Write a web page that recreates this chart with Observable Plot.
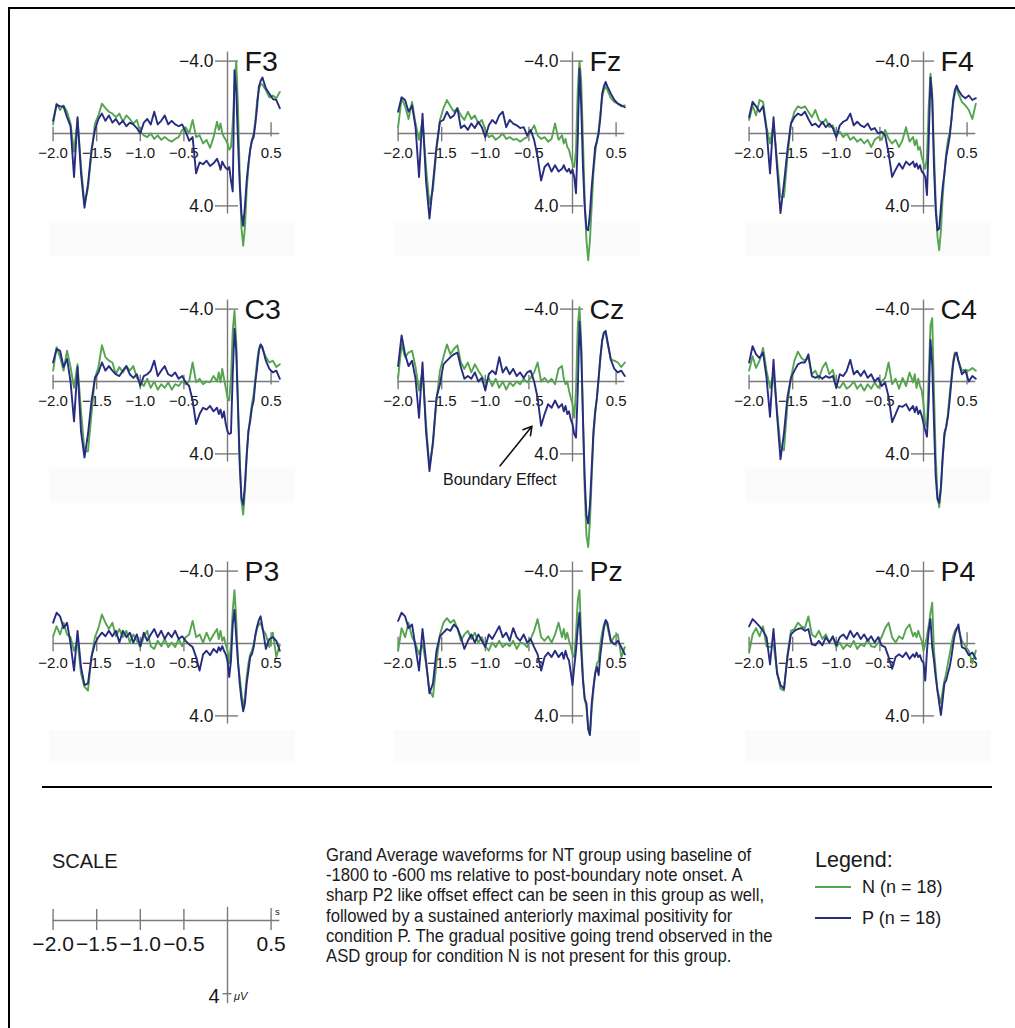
<!DOCTYPE html>
<html><head><meta charset="utf-8">
<script src="https://cdn.jsdelivr.net/npm/d3@7"></script>
<script src="https://cdn.jsdelivr.net/npm/@observablehq/plot@0.6"></script>
<style>
html,body{margin:0;padding:0;background:#fff;}
#page{position:relative;width:1015px;height:1028px;overflow:hidden;font-family:"Liberation Sans",Arial,Helvetica,sans-serif;color:#1a1a1a;}
.abs{position:absolute;}
.abs svg{overflow:visible;}
</style></head><body><div id="page"></div>
<script>
// ---------- DATA ----------
const T = [-2.00,-1.96,-1.92,-1.88,-1.84,-1.80,-1.76,-1.72,-1.68,-1.64,-1.60,-1.56,-1.52,-1.48,-1.44,-1.40,-1.36,-1.32,-1.28,-1.24,-1.20,-1.16,-1.12,-1.08,-1.04,-1.00,-0.96,-0.92,-0.88,-0.84,-0.80,-0.76,-0.72,-0.68,-0.64,-0.60,-0.56,-0.52,-0.48,-0.44,-0.40,-0.36,-0.32,-0.28,-0.24,-0.20,-0.16,-0.12,
-0.10,-0.08,-0.06,-0.04,-0.02,0.00,0.02,0.04,0.06,0.08,0.10,0.12,0.14,0.16,0.18,0.20,0.22,0.24,0.26,0.28,0.30,0.32,0.34,0.36,0.38,0.40,
0.44,0.48,0.52,0.56,0.60];

const PANEL_NAMES = ["F3","Fz","F4","C3","Cz","C4","P3","Pz","P4"];
const CONDITIONS = ["N (n = 18)", "P (n = 18)"];

const F3_N = [-0.5,-1.65,-1.3,-1.55,-1.2,-0.55,1.0,-0.8,1.8,3.9, 3.0,1.1,-0.55,-1.0,-1.65,-1.4,-1.2,-1.1,-0.9,-1.1, -0.65,-1.0,-0.8,-0.55,-0.75,-0.1,0.1,0.2,0,0.3, 0.1,0.35,0.2,0.35,0.45,0.3,0.2,-0.2,-0.35,0, -0.75,0.2,0.1,0.55,0.35,0.8,0.2,-0.65,
 -0.2,-0.55,0,0.2,0.35,0.55,0.9,0.75,-0.55,-2.6, -4.0,-1.5,2.2,5.2,6.2,5.2,3.1,1.85,0.9,0.35, 0,-0.75,-1.85,-2.4,-2.75,-2.7,
 -2.4,-2.0,-2.1,-1.95,-2.3];
const F3_P = [-0.7,-1.6,-1.5,-1.5,-0.9,-0.4,2.4,-0.9,2.2,4.1, 2.8,0.9,-0.2,-0.8,-1.1,-0.7,-1.0,-0.6,-0.8,-0.5, -0.7,-0.4,-0.6,-0.5,-0.3,0.0,-0.6,-0.8,-0.5,-1.2, -0.5,-0.7,-1.0,-0.5,-0.7,-0.5,-0.4,-0.5,-0.1,0.4, 0.2,2.2,1.6,1.7,1.5,1.8,1.65,1.4,
 1.65,2.0,1.55,1.75,1.9,2.0,1.85,2.6,3.2,-3.5, -2.4,0.4,2.8,4.4,5.1,4.0,2.6,1.65,0.9,0.4, 0.2,-0.55,-1.5,-2.6,-2.9,-3.1,
 -2.5,-2.2,-1.9,-1.85,-1.4];

const Fz_N = [-0.35,-1.95,-1.5,-0.8,-1.75,-0.55,0.35,-0.75,1.85,3.9, 3.1,0.9,-0.75,-1.4,-1.85,-1.5,-1.2,-1.4,-1.0,-0.75, -1.2,-0.8,-1.0,-0.55,-0.75,-0.2,0.2,0.1,0.35,0.2, 0,0.3,0.2,0.35,0.3,0.45,0.3,0.2,-0.1,-0.45, 0.1,0.3,0.2,0.45,0.3,-0.55,0.35,0.1,
 0.55,0.3,0.75,0.9,1.3,1.65,1.85,0.9,-2.4,-4.0, -2.95,0.35,3.7,5.9,7.0,5.9,4.05,2.2,1.1,0.35, -0.2,-1.1,-2.0,-2.4,-2.6,-2.4,
 -1.95,-1.75,-1.65,-1.5,-1.55];
const Fz_P = [-1.2,-2.0,-1.85,-1.2,-1.55,-0.35,2.4,-1.1,2.6,4.7, 2.75,0.75,-0.65,-0.75,-1.2,-0.85,-1.0,-1.4,-0.3,-0.45, -0.2,-0.55,-0.3,-0.65,-0.35,0.2,-0.45,-0.75,-0.55,-1.0, -1.2,-0.35,-0.75,-0.55,-0.45,-0.3,-0.35,0.1,-0.2,0.35, 1.3,2.6,1.85,1.65,2.1,1.75,2.1,1.95,
 1.75,2.0,2.1,1.95,2.2,2.0,2.4,3.3,0.35,-3.6, -1.5,1.85,4.05,5.25,5.35,4.4,2.95,1.85,0.75,0.45, 0,-0.9,-2.2,-2.6,-2.85,-2.6,
 -2.2,-1.85,-1.65,-1.55,-1.45];

const F4_N = [-0.75,-1.55,-1.0,-1.85,-1.75,-0.35,0.55,-0.55,1.45,3.5, 3.5,1.3,-0.55,-1.2,-1.5,-1.4,-1.5,-1.2,-0.9,-1.3, -0.75,-0.55,-0.8,-0.35,-0.45,0.1,-0.1,0.2,0,0.35, 0.2,0.45,0.3,0.55,0.35,0.75,0.35,0.2,0.35,-0.2, 0.3,0.55,0.35,0.75,0.35,-0.35,0.45,0.2,
 0.65,0.35,0.9,0.75,1.3,1.65,1.95,1.3,-1.5,-3.3, -2.2,0.9,3.7,5.7,6.45,5.35,3.5,2.2,1.1,0.35, 0,-0.75,-1.65,-2.2,-2.6,-2.2,
 -1.75,-1.55,-1.3,-0.8,-1.65];
const F4_P = [-0.9,-1.75,-1.5,-1.2,-1.5,-0.2,2.2,-0.9,1.85,4.4, 2.75,0.9,-0.55,-0.9,-1.1,-1.0,-1.2,-0.8,-0.45,-0.55, -0.35,-0.65,-0.35,-0.55,-0.3,0.2,-0.45,-0.65,-0.75,-1.1, -0.45,-0.65,-0.45,-0.35,-0.55,-0.2,-0.3,0,-0.1,0.1, 1.1,2.4,2.0,1.65,1.95,1.55,1.75,1.55,
 1.85,1.65,1.95,1.75,2.1,2.2,2.4,3.4,0.35,-3.1, -1.85,1.85,4.25,5.35,5.25,4.05,2.95,2.2,1.3,0.75, 0.2,-0.75,-1.85,-2.4,-2.65,-2.4,
 -2.1,-1.95,-2.1,-1.85,-1.95];

const C3_N = [-0.6,-1.9,-1.35,-0.6,-1.7,-0.8,0.35,-0.95,1.65,3.85, 3.85,1.8,-0.2,-0.8,-2.0,-1.35,-1.15,-1.05,-0.4,-0.8, -0.5,-0.85,-0.6,-0.85,-0.2,0,0.25,-0.15,0.35,0, 0.45,0.15,0.35,0.05,0.45,0.15,0.25,0,0.15,0, -1.05,0.05,-0.15,0.15,0,0.05,-0.3,0,
 -0.5,0.05,-0.7,-0.15,0.35,0.9,1.05,-0.2,-2.8,-3.9, -2.25,1.05,4.2,6.6,7.35,6.05,4.2,2.75,2.0,1.25, 0.7,-0.2,-1.15,-1.8,-2.05,-1.8,
 -1.35,-1.05,-1.15,-0.8,-0.95];
const C3_P = [-1.05,-1.8,-1.7,-0.8,-1.25,0,2.2,-0.8,2.75,4.2, 2.9,1.1,-0.2,-0.5,-1.05,-0.6,-0.85,-0.6,-0.4,-0.3, -0.6,-0.85,-0.4,-0.2,-0.4,0.25,-0.3,-0.4,-0.6,-1.15, -0.3,-0.6,-0.85,-0.4,-0.3,-0.5,-0.15,-0.3,0.05,0.25, 1.05,2.35,1.8,1.45,1.55,1.35,1.65,1.45,
 1.8,1.55,2.0,1.65,2.35,2.75,2.9,2.85,-0.4,-2.9, -1.7,1.45,4.6,6.45,6.8,5.7,4.05,2.75,2.2,1.45, 1.05,0,-0.8,-1.7,-2.05,-1.9,
 -1.15,-0.7,-0.5,-0.6,-0.15];

const Cz_N = [-0.2,-2.05,-1.35,-1.6,-1.7,-0.8,0.5,-0.6,2.35,4.7, 3.5,1.05,-0.6,-1.35,-2.05,-1.5,-1.8,-2.0,-1.05,-0.7, -1.05,-0.5,-0.95,-0.6,-0.3,0.05,-0.2,0.25,-0.15,0.35, 0,0.45,0.05,0.25,0,0.15,-0.15,0.05,-0.2,-0.5, -1.05,0,-0.2,0.05,-0.15,0.15,-0.7,-0.85,
 -0.15,0.15,0,0.5,0.9,1.25,2.0,0.5,-3.0,-4.1, -2.25,2.0,6.05,8.5,9.15,7.75,5.35,3.1,1.8,0.9, -0.2,-1.35,-2.25,-2.7,-2.7,-2.15,
 -1.2,-1.15,-1.05,-0.8,-1.05];
const Cz_P = [-0.85,-2.55,-1.5,-0.85,-1.15,-0.15,2.0,-1.05,2.75,4.95, 3.3,0.9,0.15,-0.95,-1.15,-1.35,-1.5,-1.6,-0.8,-0.15, -0.3,-0.15,-0.5,0,-0.2,0.5,-0.4,-0.6,-0.4,-1.35, -0.5,-0.8,-0.4,-0.7,-0.3,-0.5,-0.2,-0.5,-0.6,0, 0.9,2.45,1.8,1.25,1.45,1.05,1.45,1.25,
 1.65,1.35,1.8,1.65,2.1,2.35,2.9,3.1,0.55,-3.3, -1.7,2.0,5.35,7.4,7.85,6.8,4.8,2.75,1.65,0.9, -0.2,-1.35,-2.25,-2.7,-2.8,-2.25,
 -1.2,-0.7,-0.5,-0.6,-0.3];

const C4_N = [-0.6,-1.4,-0.75,-1.15,-1.85,-0.6,0.35,-0.4,1.6,3.6, 3.8,1.25,-0.2,-1.15,-1.65,-1.3,-1.15,-1.3,-0.4,-0.6, -0.15,-0.75,-1.05,-0.4,-0.65,0.25,0.35,0.05,0.4,0.25, 0,0.4,0.15,0.5,0.15,0.4,0.05,0.35,0,-0.2, -1.05,0.15,-0.15,0.4,-0.2,0.25,-0.5,0.05,
 -0.4,0.35,-0.15,0.25,0.5,1.25,2.3,2.5,-0.4,-3.1, -3.5,0.5,4.15,6.3,6.95,5.95,4.3,3.05,2.5,1.8, 0.7,-0.2,-1.15,-1.6,-1.5,-1.15,
 -0.6,-0.65,-0.6,-0.75,-0.6];
const C4_P = [-1.05,-1.95,-1.5,-1.3,-1.6,-0.2,1.95,-1.2,1.8,4.3, 2.85,0.85,-0.2,-0.6,-0.95,-1.05,-1.05,-1.5,-0.3,-0.2, -0.3,-0.15,-0.3,-0.2,-0.3,0.35,-0.4,-0.3,-0.6,-1.2, -0.4,-0.6,-0.3,-0.6,-0.2,-0.4,0,-0.2,0.25,0.05, 0.85,2.25,1.8,1.35,1.4,1.25,1.6,1.35,
 1.7,1.4,1.8,1.6,1.9,2.3,2.7,3.05,1.05,-2.3, -0.95,2.3,5.25,6.5,6.7,5.8,4.15,2.85,2.5,1.95, 1.05,0,-0.95,-1.5,-1.6,-1.15,
 -0.4,-0.6,0,-0.3,-0.15];

const P3_N = [-0.4,-0.95,-0.5,-1.15,-0.5,-0.35,0.4,-0.15,1.65,2.4, 2.6,0.75,-0.35,-0.85,-1.6,-1.15,-0.8,-1.15,-0.4,-0.8, -0.35,-0.7,-0.05,-0.5,-0.15,0.2,-0.35,-0.7,0.15,0.3, -0.15,0.15,-0.25,0.2,-0.05,0.2,-0.25,0.15,-0.35,-0.5, -1.25,-0.35,-0.5,-0.05,-0.6,-0.15,-0.5,-0.8,
 -0.25,-0.7,-0.15,-0.35,0.05,0.4,1.1,0.05,-1.8,-2.95, -1.4,1.1,1.85,2.75,3.5,2.95,1.85,1.1,0.6,0.4, 0.05,-0.4,-0.85,-1.05,-1.15,-0.8,
 -0.5,0.2,-0.6,0.75,0.05];
const P3_P = [-1.15,-1.7,-1.5,-0.85,-1.15,0,1.5,-0.7,1.3,2.3, 2.2,0.75,0,-0.35,-0.6,-0.4,-0.7,-0.4,-0.7,-0.05, -0.7,-0.35,-0.6,-0.05,-0.5,0.15,-0.6,-0.15,-0.5,-0.8, -0.35,-0.7,-0.25,-0.6,-0.35,-0.7,-0.25,-0.4,-0.15,0.05, 0.2,0.75,1.5,0.6,0.4,0.65,0.3,0.5,
 0.2,0.4,0.15,0.4,0.6,0.95,1.85,0.95,-1.05,-1.85, -0.35,0.95,2.2,3.1,3.75,3.3,2.2,1.5,0.75,0.6, 0.2,-0.5,-0.95,-1.3,-1.5,-0.95,
 0.3,-0.25,-0.35,-0.15,0.4];

const Pz_N = [0.4,-0.85,-0.35,-1.15,-0.35,0,0.6,0,1.1,2.6, 2.95,1.1,-0.5,-1.15,-1.4,-1.15,-1.3,-0.85,-0.15,-0.5, -0.7,-0.25,-0.6,-0.05,-0.35,0.15,0.4,-0.05,0.2,-0.15, 0.2,0,0.15,-0.15,0.3,-0.05,0,0.2,-0.25,-0.7, -1.35,-0.35,-0.15,-0.4,-0.05,-0.5,-1.15,-0.35,
 -0.8,-0.25,-0.6,-0.15,0.15,0.6,0.75,-0.5,-2.35,-2.95, -0.35,1.85,3.1,3.5,4.6,5.05,3.65,2.6,1.65,1.1, 0.95,0,-0.6,-1.05,-1.25,-0.95,
 -0.05,-0.4,-0.5,0.75,0.2];
const Pz_P = [-1.25,-1.7,-1.5,-0.85,-1.05,0.2,1.5,-0.8,0.95,2.75, 2.2,0.4,-0.4,-0.6,-0.8,-0.7,-1.05,-0.85,-0.35,0.3, -0.15,-0.5,-0.05,-0.5,-0.15,0.2,-0.5,-0.25,-0.6,-0.95, -0.35,-0.6,-0.15,-0.85,-0.35,-0.15,-0.5,-0.05,-0.25,0.2, 0.6,1.5,0.75,0.5,0.75,0.4,0.75,0.5,
 0.85,0.4,0.75,0.95,1.6,2.3,1.3,0.4,-0.85,-1.7, 0.4,2.05,3.05,3.3,4.75,5.05,3.3,2.4,1.65,1.3, 1.75,0.6,-0.15,-0.85,-1.3,-1.15,
 -0.15,0.05,-0.15,0.2,0.6];

const P4_N = [0.5,-0.5,-0.85,-0.4,-0.95,0.15,0.2,0.05,1.5,2.5, 2.6,0.6,-0.7,-0.8,-1.15,-0.95,-0.85,-1.5,-0.5,-0.35, -0.7,-0.25,-0.5,-0.05,-0.35,0.2,-0.05,0.3,0.05,0.2, -0.15,0.3,0.05,0.15,-0.25,0.15,0.2,-0.05,-0.35,-0.85, -1.15,-0.35,-0.05,-0.4,-0.25,-0.8,-1.05,-0.4,
 -0.6,-0.35,-0.7,-0.4,-0.15,0.4,0.05,-0.4,-1.0,-1.7, -2.25,0.4,1.5,2.6,2.95,3.3,2.6,2.05,1.65,1.1, 0.6,0.05,-0.4,-0.7,-0.85,-0.8,
 -0.15,0.15,0.4,1.1,0.4];
const P4_P = [-0.95,-1.35,-1.15,-0.95,-0.7,-0.35,1.15,-0.8,1.65,2.3, 2.5,0.75,-0.5,-0.7,-0.8,-0.85,-0.7,-0.8,0.05,0.1, -0.15,0.1,-0.35,-0.05,-0.4,0.1,-0.35,-0.5,-0.25,-0.7, -0.35,-0.6,-0.25,-0.5,-0.15,-0.4,-0.05,-0.35,0.1,0.2, 0.75,1.4,0.75,0.6,0.75,0.5,0.85,0.6,
 0.75,0.5,0.75,0.65,0.95,1.05,2.05,0.4,-0.7,-1.35, 0.2,0.95,1.85,2.6,3.3,3.95,3.1,2.2,2.05,1.65, 1.3,0.75,0.05,-0.5,-0.8,-1.05,
 0.2,0.3,0.65,0.5,0.85];

const SERIES_N = [F3_N, Fz_N, F4_N, C3_N, Cz_N, C4_N, P3_N, Pz_N, P4_N];
const SERIES_P = [F3_P, Fz_P, F4_P, C3_P, Cz_P, C4_P, P3_P, Pz_P, P4_P];

const X_TICKS = [-2.0, -1.5, -1.0, -0.5];
const X_TICK_LABELS = ["\u22122.0", "\u22121.5", "\u22121.0", "\u22120.5"];
const X_END_TICK = [0.5];
const X_END_LABEL = ["0.5"];
const Y_TICKS = [-4, 4];
const Y_TICK_LABELS = ["\u22124.0", "4.0"];

const ANNOT_ARROW = [{x1: -0.83, y1: 4.66, x2: -0.465, y2: 2.47}];
const ANNOT_TEXT = [{t: -0.834, v: 5.45, label: "Boundary Effect"}];

const SCALE_Y_TICK = [4];
const SCALE_Y_LABEL = ["4"];

const CAPTION_LINES = [
  "Grand Average waveforms for NT group using baseline of",
  "-1800 to -600 ms relative to post-boundary note onset. A",
  "sharp P2 like offset effect can be seen in this group as well,",
  "followed by a sustained anteriorly maximal positivity for",
  "condition P. The gradual positive going trend observed in the",
  "ASD group for condition N is not present for this group."
];

// ---------- STYLE / LAYOUT ----------
const GREEN = "#55a550", BLUE = "#272c80", AXIS = "#7a7a7a", INK = "#161616";
const FONT = "'Liberation Sans', Arial, Helvetica, sans-serif";
const PX_S = 87.2, PX_UV = 18.1, OX = 200, OY = 100, W = 300, H = 300;
const COLS = [227.3, 571.7, 923.3];
const ROWS = [133.3, 380.7, 642.7];
const BANDS = [[221, 256], [468, 503], [730, 763]];

const page = document.getElementById("page");
function div(css, html) {
  const d = document.createElement("div");
  d.className = "abs";
  d.style.cssText = css;
  if (html != null) d.innerHTML = html;
  page.appendChild(d);
  return d;
}

// very faint background bands
PANEL_NAMES.forEach((name, k) => {
  if (name === "Cz") return;
  const X0 = COLS[k % 3], r = Math.floor(k / 3);
  div(`left:${X0 - 178}px;top:${BANDS[r][0]}px;width:246px;height:${BANDS[r][1] - BANDS[r][0]}px;background:#fbfbfb;`);
});

const tickHalf = 12 / PX_S;

PANEL_NAMES.forEach((name, k) => {
  const X0 = COLS[k % 3], Y0 = ROWS[Math.floor(k / 3)];
  const nArr = SERIES_N[k], pArr = SERIES_P[k];
  const len = Math.min(T.length, nArr.length, pArr.length);
  const lineN = [], lineP = [];
  for (let i = 0; i < len; i++) {
    lineN.push({t: T[i], v: nArr[i]});
    lineP.push({t: T[i], v: pArr[i]});
  }
  const marks = [
    Plot.ruleY([0], {x1: -2.0, x2: 0.6, stroke: AXIS, strokeWidth: 1.4}),
    Plot.ruleX([0], {y1: -4.5, y2: 4.45, stroke: AXIS, strokeWidth: 1.4}),
    Plot.ruleX(X_TICKS, {x: d => d, y1: -0.35, y2: 0.45, stroke: AXIS, strokeWidth: 1.4}),
    Plot.ruleX(X_END_TICK, {x: d => d, y1: -0.6, y2: 0.2, stroke: AXIS, strokeWidth: 1.4}),
    Plot.ruleY(Y_TICKS, {y: d => d, x1: -tickHalf, x2: tickHalf * 0.92, stroke: AXIS, strokeWidth: 1.4}),
    Plot.text(X_TICKS, {x: d => d, y: 0, text: (d, i) => X_TICK_LABELS[i], dy: 20, fontSize: 15, fill: INK}),
    Plot.text(X_END_TICK, {x: d => d, y: 0, text: (d, i) => X_END_LABEL[i], dy: 20, fontSize: 15, fill: INK}),
    Plot.text(Y_TICKS, {x: 0, y: d => d, text: (d, i) => Y_TICK_LABELS[i], dx: -14, textAnchor: "end", fontSize: 17.5, fill: INK}),
    Plot.text([name], {x: 0, y: -4, text: d => d, dx: 17, dy: 1, textAnchor: "start", fontSize: 28.5, fill: INK}),
    Plot.line(lineN, {x: "t", y: "v", stroke: GREEN, strokeWidth: 1.9}),
    Plot.line(lineP, {x: "t", y: "v", stroke: BLUE, strokeWidth: 1.9})
  ];
  if (name === "Cz") {
    marks.push(Plot.arrow(ANNOT_ARROW, {x1: "x1", y1: "y1", x2: "x2", y2: "y2", stroke: "#111", strokeWidth: 1.6, headLength: 9}));
    marks.push(Plot.text(ANNOT_TEXT, {x: "t", y: "v", text: "label", fontSize: 16, fill: INK}));
  }
  const chart = Plot.plot({
    width: W, height: H, margin: 0,
    x: {domain: [-2.0, 0.6], range: [OX - 2.0 * PX_S, OX + 0.6 * PX_S], axis: null},
    y: {domain: [-4, 4], range: [OY - 4 * PX_UV, OY + 4 * PX_UV], axis: null},
    style: {background: "transparent", overflow: "visible", fontFamily: FONT},
    marks
  });
  const holder = div(`left:${X0 - OX}px;top:${Y0 - OY}px;width:${W}px;height:${H}px;`);
  holder.appendChild(chart);
});

// ---------- frame & separator ----------
div("left:9px;top:7px;width:1006px;height:2px;background:#000;");
div("left:8px;top:7px;width:1.6px;height:1021px;background:#000;");
div("left:42px;top:786px;width:950px;height:1.6px;background:#000;");

// ---------- SCALE ----------
div(`left:52px;top:${867.7 - 0.85 * 20}px;font-size:20px;line-height:20px;white-space:nowrap;`, "SCALE");
{
  const SX0 = 227.3, SY0 = 920, SPX_UV = 18.3;
  const chart = Plot.plot({
    width: W, height: 200, margin: 0,
    x: {domain: [-2.0, 0.6], range: [OX - 2.0 * PX_S, OX + 0.6 * PX_S], axis: null},
    y: {domain: [0, 4], range: [OY, OY + 4 * SPX_UV], axis: null},
    style: {background: "transparent", overflow: "visible", fontFamily: FONT},
    marks: [
      Plot.ruleY([0], {x1: -2.0, x2: 0.6, stroke: AXIS, strokeWidth: 1.4}),
      Plot.ruleX([0], {y1: -0.72, y2: 4.55, stroke: AXIS, strokeWidth: 1.4}),
      Plot.ruleX(X_TICKS, {x: d => d, y1: -0.6, y2: 0.55, stroke: AXIS, strokeWidth: 1.4}),
      Plot.ruleX(X_END_TICK, {x: d => d, y1: -0.65, y2: 0.55, stroke: AXIS, strokeWidth: 1.4}),
      Plot.ruleY(SCALE_Y_TICK, {y: d => d, x1: -4.5 / PX_S, x2: 4.5 / PX_S, stroke: AXIS, strokeWidth: 1.4}),
      Plot.text(X_TICKS, {x: d => d, y: 0, text: (d, i) => X_TICK_LABELS[i], dy: 24, fontSize: 21, fill: INK}),
      Plot.text(X_END_TICK, {x: d => d, y: 0, text: (d, i) => X_END_LABEL[i], dy: 24, fontSize: 21, fill: INK}),
      Plot.text(X_END_TICK, {x: d => d, y: 0, text: ["s"], dx: 4, dy: -9, textAnchor: "start", fontSize: 9.5, fill: INK}),
      Plot.text(SCALE_Y_TICK, {x: 0, y: d => d, text: (d, i) => SCALE_Y_LABEL[i], dx: -8, dy: 2.5, textAnchor: "end", fontSize: 20, fill: INK}),
      Plot.text(SCALE_Y_TICK, {x: 0, y: d => d, text: ["\u03bcV"], dx: 6.5, dy: 2.5, textAnchor: "start", fontSize: 11, fontStyle: "italic", fill: INK})
    ]
  });
  const holder = div(`left:${SX0 - OX}px;top:${SY0 - OY}px;width:${W}px;height:200px;`);
  holder.appendChild(chart);
}

// ---------- caption ----------
{
  const cap = div("left:326px;top:0px;white-space:nowrap;");
  const spans = CAPTION_LINES.map((s) => {
    const line = document.createElement("div");
    line.className = "abs";
    line.style.cssText = "left:0;white-space:nowrap;font-size:15px;line-height:15px;";
    line.textContent = s;
    cap.appendChild(line);
    return line;
  });
  const widest = Math.max(...spans.map(s => s.getBoundingClientRect().width));
  const fs = 15 * 447 / widest;
  spans.forEach((s, i) => {
    s.style.fontSize = fs + "px";
    s.style.lineHeight = fs + "px";
    const baseline = 862 + i * 20.3;
    s.style.top = (baseline - 0.85 * fs) + "px";
    s.style.transformOrigin = "0 " + (0.85 * fs) + "px";
    s.style.transform = "scaleY(1.1)";
  });
}

// ---------- legend ----------
div(`left:815px;top:${868 - 0.85 * 21.5}px;font-size:21.5px;line-height:21.5px;white-space:nowrap;`, "Legend:");
[[GREEN, 887], [BLUE, 918]].forEach(([c, y], i) => {
  div(`left:815px;top:${y - 0.75}px;width:36px;height:1.5px;background:${c};`);
  div(`left:862px;top:${y + 6 - 0.85 * 18}px;font-size:18px;line-height:18px;white-space:nowrap;`, CONDITIONS[i]);
});
</script>
</body></html>
